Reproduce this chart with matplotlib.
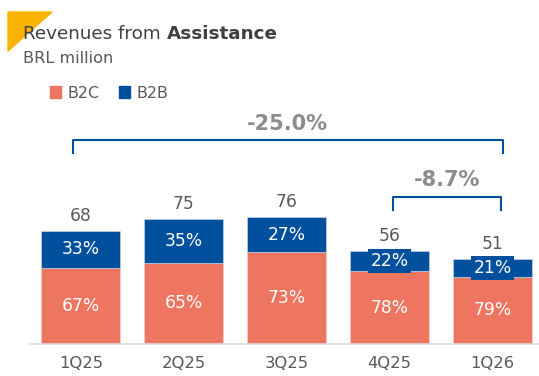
import matplotlib.pyplot as plt
from matplotlib.patches import Patch, Polygon

# Data
quarters = ['1Q25', '2Q25', '3Q25', '4Q25', '1Q26']
totals = [68, 75, 76, 56, 51]
b2c_share = [67, 65, 73, 78, 79]
b2b_share = [33, 35, 27, 22, 21]
growth_long = '-25.0%'
growth_short = '-8.7%'

salmon = '#EE7560'
blue = '#00509E'
grey_txt = '#595959'

plt.rcParams['font.family'] = ['DejaVu Sans']

W, H = 539, 376
fig = plt.figure(figsize=(W / 100, H / 100), dpi=100)
# axes placed in pixel terms: baseline at y=344 from top
ax = fig.add_axes([30 / W, 32 / H, (W - 30) / W, (H - 32) / H])

b2c_vals = [t * s / 100 for t, s in zip(totals, b2c_share)]
b2b_vals = [t * s / 100 for t, s in zip(totals, b2b_share)]
x = list(range(len(quarters)))
width = 0.767

ax.bar(x, b2c_vals, width, color=salmon, edgecolor='#F5D0C8', linewidth=0.5)
ax.bar(x, b2b_vals, width, bottom=b2c_vals, color=blue, edgecolor='#C4D3E6', linewidth=0.5)

for i in x:
    ax.text(i, b2c_vals[i] / 2, f'{b2c_share[i]}%', ha='center', va='center',
            color='white', fontsize=12.3)
    ax.text(i, b2c_vals[i] + b2b_vals[i] / 2, f'{b2b_share[i]}%', ha='center', va='center',
            color='white', fontsize=12.3,
            bbox=dict(boxstyle='square,pad=0.15', facecolor=blue, edgecolor='none'))
    ax.text(i, totals[i] + 9, str(totals[i]), ha='center', va='center',
            color=grey_txt, fontsize=12.3)

# growth brackets
def bracket(x0, x1, y0, y1, label, ly):
    ax.plot([x0, x0, x1, x1], [y0, y1, y1, y0], color=blue, lw=1.5,
            solid_joinstyle='round', clip_on=False)
    ax.text((x0 + x1) / 2, ly, label, ha='center', va='center', color='#8C8C8C',
            fontsize=15, fontweight='bold')

bracket(-0.08, 4.10, 114.7, 122.5, growth_long, 132)
bracket(3.03, 4.08, 80.5, 88.3, growth_short, 98.5)

ax.set_xlim(-0.495, 4.45)
ax.set_ylim(0, 344 / 1.665)
ax.set_xticks(x)
ax.set_xticklabels(quarters, color=grey_txt, fontsize=11.8)
ax.tick_params(axis='x', length=0, pad=9)
ax.set_yticks([])
for s in ['top', 'right', 'left']:
    ax.spines[s].set_visible(False)
ax.spines['bottom'].set_color('#D9D9D9')
ax.spines['bottom'].set_linewidth(1.2)
ax.patch.set_visible(False)

# corner triangle
tri = Polygon([[8 / W, 1 - 12 / H], [52 / W, 1 - 12 / H], [8 / W, 1 - 51 / H]],
              closed=True, transform=fig.transFigure, color='#F9B300', zorder=0)
fig.patches.append(tri)

# title with mixed weights
t1 = fig.text(23 / W, 1 - 39 / H, 'Revenues from ', fontsize=13.2, color='#404040',
              va='baseline', ha='left')
fig.canvas.draw()
bb = t1.get_window_extent()
fig.text(bb.x1 / W, 1 - 39 / H, 'Assistance', fontsize=13.2, color='#404040',
         fontweight='bold', va='baseline', ha='left')
fig.text(23 / W, 1 - 63 / H, 'BRL million', fontsize=11.6, color=grey_txt, va='baseline', ha='left')

handles = [Patch(color=salmon, label='B2C'), Patch(color=blue, label='B2B')]
fig.legend(handles=handles, loc='center left', bbox_to_anchor=(36 / W, 1 - 93 / H), ncol=2,
           frameon=False, handlelength=0.7, handleheight=0.7, handletextpad=0.4,
           columnspacing=1.2, labelcolor=grey_txt, fontsize=11.4)

fig.savefig('out.png', dpi=100)
